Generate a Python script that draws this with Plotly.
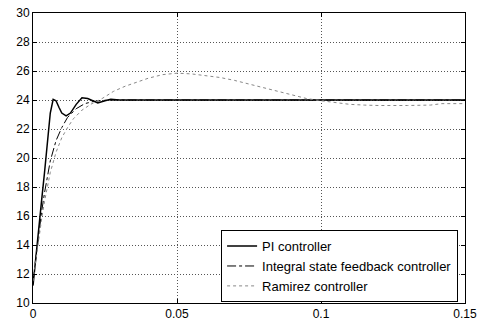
import plotly.graph_objects as go

# Data
pi_t = [0, 0.001, 0.002, 0.003, 0.004, 0.005, 0.006, 0.007, 0.008, 0.009, 0.010, 0.0115,
        0.013, 0.015, 0.017, 0.019, 0.021, 0.0225, 0.025, 0.027, 0.030, 0.15]
pi_y = [11.2, 13.3, 15.2, 17.1, 19.0, 21.2, 23.1, 24.05, 23.95, 23.5, 23.1, 22.9,
        23.1, 23.7, 24.15, 24.1, 23.9, 23.8, 23.95, 24.05, 24.0, 24.0]

isf_t = [0, 0.001, 0.002, 0.003, 0.004, 0.005, 0.006, 0.008, 0.010, 0.012, 0.015,
         0.018, 0.021, 0.025, 0.030, 0.15]
isf_y = [11.5, 13.2, 14.8, 16.3, 17.6, 18.8, 19.8, 21.2, 22.1, 22.8, 23.4,
         23.75, 23.9, 23.98, 24.0, 24.0]

ram_t = [0, 0.001, 0.002, 0.003, 0.004, 0.005, 0.006, 0.008, 0.010, 0.012, 0.014,
         0.017, 0.020, 0.024, 0.028, 0.032, 0.036, 0.040, 0.045, 0.050, 0.055,
         0.060, 0.065, 0.070, 0.075, 0.080, 0.085, 0.090, 0.095, 0.100, 0.105,
         0.110, 0.115, 0.120, 0.130, 0.138, 0.142, 0.150]
ram_y = [11.5, 13.0, 14.5, 15.8, 17.0, 18.0, 19.0, 20.4, 21.4, 22.1, 22.7,
         23.3, 23.7, 24.1, 24.6, 24.95, 25.25, 25.5, 25.75, 25.85, 25.8,
         25.7, 25.55, 25.35, 25.1, 24.8, 24.55, 24.3, 24.1, 23.95, 23.8,
         23.7, 23.65, 23.62, 23.62, 23.65, 23.75, 23.75]

x_ticks = [0, 0.05, 0.1, 0.15]
x_ticklabels = ["0", "0.05", "0.1", "0.15"]
y_ticks = [10, 12, 14, 16, 18, 20, 22, 24, 26, 28, 30]

fig = go.Figure()
fig.add_trace(go.Scatter(x=pi_t, y=pi_y, mode="lines", name="PI controller",
                         line=dict(color="black", width=1.5)))
fig.add_trace(go.Scatter(x=isf_t, y=isf_y, mode="lines",
                         name="Integral state feedback controller",
                         line=dict(color="black", width=1, dash="dashdot")))
fig.add_trace(go.Scatter(x=ram_t, y=ram_y, mode="lines", name="Ramirez controller",
                         line=dict(color="#888888", width=1, dash="dot")))

axis_common = dict(showline=True, linecolor="black", linewidth=1, mirror="ticks",
                   ticks="inside", ticklen=4, tickcolor="black", automargin=False,
                   showgrid=True, gridcolor="#555555", gridwidth=1, griddash="1px,2px",
                   zeroline=False,
                   tickfont=dict(family="Liberation Sans, Arial", size=12, color="black"))

fig.update_xaxes(range=[0, 0.15], tickvals=x_ticks, ticktext=x_ticklabels, **axis_common)
fig.update_yaxes(range=[10, 30], tickvals=y_ticks, **axis_common)

fig.update_layout(
    width=487, height=323,
    margin=dict(l=33, r=22, t=13, b=20, autoexpand=False),
    plot_bgcolor="white", paper_bgcolor="white",
    font=dict(family="Liberation Sans, Arial", size=12, color="black"),
    legend=dict(x=0.984, y=0.003, xanchor="right", yanchor="bottom",
                bordercolor="black", borderwidth=1, bgcolor="white",
                font=dict(size=13), tracegroupgap=0),
    showlegend=True,
)

# remove the default 8px page margin so the figure fills the window exactly
fig.write_html("out.html", config={"displayModeBar": False},
               post_script="document.body.style.margin='0';")
